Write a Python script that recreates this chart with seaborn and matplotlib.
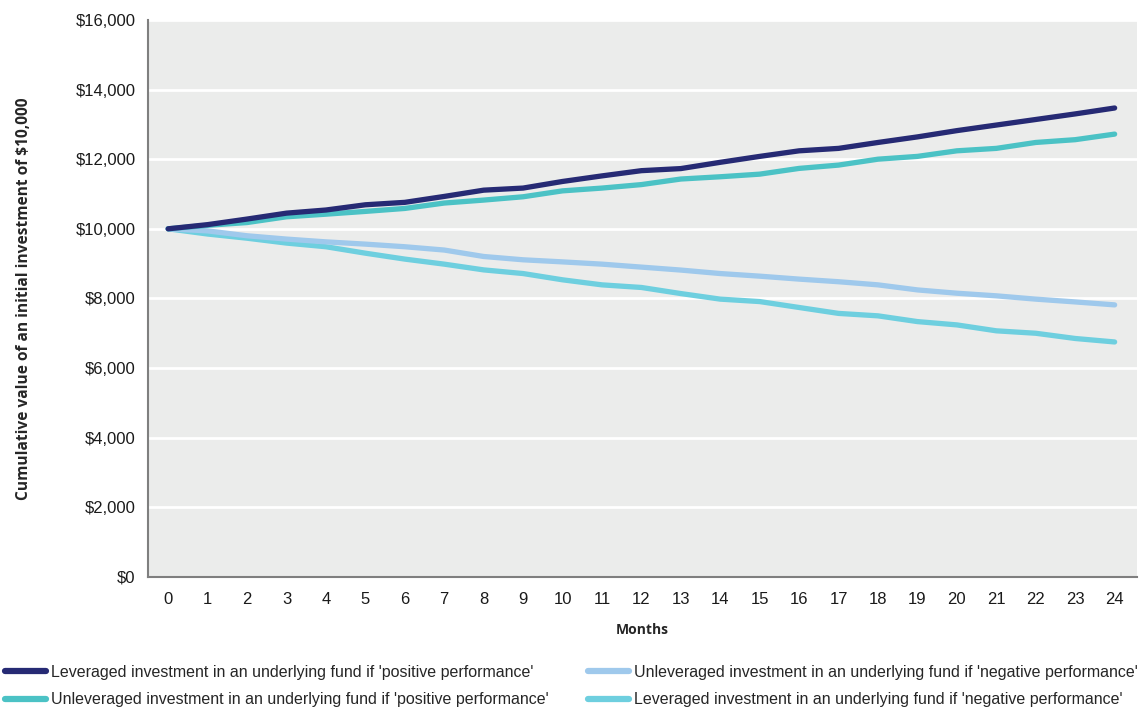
import matplotlib
matplotlib.use("Agg")
import matplotlib.pyplot as plt
import seaborn as sns
import pandas as pd
from matplotlib.ticker import FuncFormatter, MultipleLocator

months = list(range(25))

leveraged_positive = [10000, 10120, 10280, 10450, 10540, 10690, 10760, 10930, 11110, 11170,
                      11360, 11520, 11670, 11730, 11910, 12080, 12240, 12310, 12480, 12640,
                      12820, 12980, 13140, 13300, 13470]
unleveraged_positive = [10000, 10100, 10180, 10345, 10420, 10500, 10585, 10740, 10825, 10920,
                        11090, 11170, 11270, 11430, 11495, 11570, 11735, 11830, 12000, 12080,
                        12240, 12310, 12480, 12560, 12720]
unleveraged_negative = [10000, 9940, 9800, 9705, 9625, 9560, 9485, 9390, 9205, 9110,
                        9050, 8985, 8900, 8815, 8715, 8640, 8555, 8480, 8390, 8245,
                        8150, 8075, 7980, 7900, 7815]
leveraged_negative = [10000, 9850, 9730, 9590, 9485, 9300, 9130, 8985, 8820, 8715,
                      8535, 8390, 8315, 8140, 7980, 7910, 7740, 7570, 7500, 7335,
                      7240, 7070, 7000, 6850, 6750]

series_names = [
    "Leveraged investment in an underlying fund if 'positive performance'",
    "Unleveraged investment in an underlying fund if 'positive performance'",
    "Unleveraged investment in an underlying fund if 'negative performance'",
    "Leveraged investment in an underlying fund if 'negative performance'",
]
series_values = [leveraged_positive, unleveraged_positive, unleveraged_negative, leveraged_negative]
colors = ["#262a74", "#4bc2c5", "#9fc9ec", "#6ecfdf"]

frames = [pd.DataFrame({"Month": months, "Value": vals, "Series": name})
          for name, vals in zip(series_names, series_values)]
df = pd.concat(frames, ignore_index=True)

sns.set_theme(style="white")
plt.rcParams["font.family"] = ["Liberation Sans", "DejaVu Sans"]

fig = plt.figure(figsize=(11.39, 7.11), dpi=100)
ax = fig.add_axes([0.130, 0.1885, 0.868, 0.7835])
ax.set_facecolor("#ebeceb")

# Draw the negative paths first so the positive ones sit on top
draw_order = [3, 2, 1, 0]
palette = dict(zip(series_names, colors))
sns.lineplot(data=df, x="Month", y="Value", hue="Series", hue_order=[series_names[i] for i in draw_order],
             palette=palette, linewidth=3.8, ax=ax, legend=False,
             solid_capstyle="round", solid_joinstyle="round")

ax.set_xlim(-0.51, 24.56)
ax.set_ylim(0, 16000)
ax.yaxis.set_major_locator(MultipleLocator(2000))
ax.xaxis.set_major_locator(MultipleLocator(1))
ax.yaxis.set_major_formatter(FuncFormatter(lambda v, p: f"${v:,.0f}"))
ax.grid(axis="y", color="white", linewidth=2)
ax.grid(axis="x", visible=False)
ax.set_axisbelow(True)

for side in ["top", "right"]:
    ax.spines[side].set_visible(False)
for side in ["left", "bottom"]:
    ax.spines[side].set_color("#7f7f7f")
    ax.spines[side].set_linewidth(1.5)

ax.tick_params(axis="both", length=0, labelsize=12, colors="#1a1a1a")
ax.tick_params(axis="y", pad=9)
ax.tick_params(axis="x", pad=11)

ax.set_xlabel("Months", fontsize=10, fontweight="bold", family=["Open Sans", "DejaVu Sans"], labelpad=11)
ax.set_ylabel("Cumulative value of an initial investment of $10,000", fontsize=11.2, fontweight="bold",
              family=["Open Sans", "DejaVu Sans"], labelpad=31)

handles = [plt.Line2D([0], [0], color=c, linewidth=4.5, solid_capstyle="round") for c in colors]
fig.legend(handles, series_names, loc="upper left", bbox_to_anchor=(0.004, 0.065), ncol=2,
           frameon=False, fontsize=11.5, handlelength=2.6, handletextpad=0.3, columnspacing=2.45,
           borderpad=0, borderaxespad=0, labelspacing=0.78)

fig.savefig("out.png", dpi=100)
